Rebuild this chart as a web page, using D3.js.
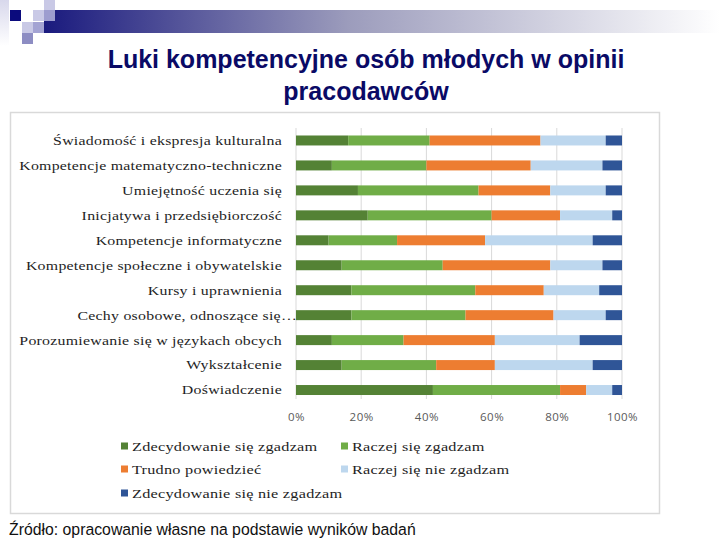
<!DOCTYPE html>
<html>
<head>
<meta charset="utf-8">
<script src="https://cdn.jsdelivr.net/npm/d3@7.9.0/dist/d3.min.js"></script>
<style>
  body { margin: 0; background: #fff; }
  svg { display: block; }
</style>
</head>
<body>
<div id="chart"></div>
<script>
const categories = [
    "Świadomość i ekspresja kulturalna",
    "Kompetencje matematyczno-techniczne",
    "Umiejętność uczenia się",
    "Inicjatywa i przedsiębiorczość",
    "Kompetencje informatyczne",
    "Kompetencje społeczne i obywatelskie",
    "Kursy i uprawnienia",
    "Cechy osobowe, odnoszące się…",
    "Porozumiewanie się w językach obcych",
    "Wykształcenie",
    "Doświadczenie"
];
const seriesNames = [
    "Zdecydowanie się zgadzam",
    "Raczej się zgadzam",
    "Trudno powiedzieć",
    "Raczej się nie zgadzam",
    "Zdecydowanie się nie zgadzam"
];
const strongAgree    = [16, 11, 19, 22, 10, 14, 17, 17, 11, 14, 42];
const ratherAgree    = [25, 29, 37, 38, 21, 31, 38, 35, 22, 29, 39];
const hardToSay      = [34, 32, 22, 21, 27, 33, 21, 27, 28, 18, 8];
const ratherDisagree = [20, 22, 17, 16, 33, 16, 17, 16, 26, 30, 8];
const strongDisagree = [5, 6, 5, 3, 9, 6, 7, 5, 13, 9, 3];
const xTicks = [0, 0.2, 0.4, 0.6, 0.8, 1];

const seriesValues = [strongAgree, ratherAgree, hardToSay, ratherDisagree, strongDisagree];
const colors = ["#548235", "#70ad47", "#ed7d31", "#bdd7ee", "#2f5597"];

const width = 720, height = 540;

const svg = d3.select('#chart').append('svg')
    .attr('width', width)
    .attr('height', height);

// slide decoration
const defs = svg.append('defs');
const grad = defs.append('linearGradient').attr('id', 'topbar');
grad.append('stop').attr('offset', '0%').attr('stop-color', '#1a1a7e');
grad.append('stop').attr('offset', '45%').attr('stop-color', '#9c9cbc');
grad.append('stop').attr('offset', '100%').attr('stop-color', '#ffffff');
const side = defs.append('linearGradient').attr('id', 'side')
    .attr('x1', 0).attr('y1', 0).attr('x2', 0).attr('y2', 1);
side.append('stop').attr('offset', '0%').attr('stop-color', '#d8d8ec');
side.append('stop').attr('offset', '100%').attr('stop-color', '#ffffff');

svg.append('rect').attr('x', 0).attr('y', 0).attr('width', 9).attr('height', 46).attr('fill', 'url(#side)');
svg.append('rect').attr('x', 44).attr('y', 10).attr('width', 676).attr('height', 23).attr('fill', 'url(#topbar)');

const squares = [
    [10, 10, '#0b0b7d'],
    [33, 10, '#c9c9e6'],
    [44, 0, '#c9c9e6'],
    [44, 10, '#9d9dcf'],
    [22, 22, '#c9c9e6'],
    [33, 22, '#a3a3d3'],
    [22, 33, '#8d8dc3']
];
svg.append('g').selectAll('rect')
    .data(squares)
    .join('rect')
    .attr('x', d => d[0])
    .attr('y', d => d[1])
    .attr('width', 11)
    .attr('height', 11)
    .attr('fill', d => d[2]);

// title
const title = svg.append('text')
    .attr('text-anchor', 'middle')
    .style('font-family', '"Liberation Sans", Arial, sans-serif')
    .style('font-weight', 'bold')
    .style('font-size', '25px')
    .attr('fill', '#0a0a66');
title.append('tspan').attr('x', 366).attr('y', 68).text('Luki kompetencyjne osób młodych w opinii');
title.append('tspan').attr('x', 366).attr('y', 100).text('pracodawców');

// chart frame
svg.append('rect')
    .attr('x', 10.5).attr('y', 112.5)
    .attr('width', 649).attr('height', 401)
    .attr('fill', 'none')
    .attr('stroke', '#d9d9d9')
    .attr('stroke-width', 1.5);

const x = d3.scaleLinear().domain([0, 1]).range([296, 622]);
const y = d3.scaleBand().domain(categories).range([128, 402.5])
    .paddingInner(0.6).paddingOuter(0.3);

// gridlines
svg.append('g')
    .selectAll('line')
    .data(xTicks)
    .join('line')
    .attr('x1', d => x(d)).attr('x2', d => x(d))
    .attr('y1', 128).attr('y2', 399)
    .attr('stroke', '#d9d9d9')
    .attr('stroke-width', 1);

const table = categories.map((c, i) => {
    const row = { category: c };
    seriesNames.forEach((s, j) => { row[s] = seriesValues[j][i] / 100; });
    return row;
});
const stacked = d3.stack().keys(seriesNames)(table);

svg.append('g')
    .selectAll('g')
    .data(stacked)
    .join('g')
    .attr('fill', (d, i) => colors[i])
    .selectAll('rect')
    .data(d => d)
    .join('rect')
    .attr('x', d => x(d[0]))
    .attr('y', d => y(d.data.category))
    .attr('width', d => x(d[1]) - x(d[0]))
    .attr('height', y.bandwidth());

// category labels (the source text is stretched horizontally)
svg.append('g')
    .selectAll('text')
    .data(categories)
    .join('text')
    .attr('transform', d => `translate(${d.endsWith('…') ? 297 : 282},${y(d) + y.bandwidth() / 2}) scale(1.27,1)`)
    .attr('dy', '0.35em')
    .attr('text-anchor', 'end')
    .style('font-family', '"Liberation Serif", "Times New Roman", serif')
    .style('font-size', '12.5px')
    .style('letter-spacing', '0.2px')
    .attr('fill', '#1e1e1e')
    .text(d => d);

// x axis labels
const xAxis = d3.axisBottom(x).tickValues(xTicks).tickFormat(d3.format('.0%')).tickSize(0);
const axisG = svg.append('g')
    .attr('transform', 'translate(0,410)')
    .call(xAxis);
axisG.select('.domain').remove();
axisG.selectAll('text')
    .style('font-family', '"Open Sans", sans-serif')
    .style('font-size', '11.5px')
    .style('letter-spacing', '0.5px')
    .attr('fill', '#595959');

// legend
const legendPos = [[121, 446], [341, 446], [121, 469], [341, 469], [121, 493]];
const legend = svg.append('g')
    .selectAll('g')
    .data(seriesNames)
    .join('g')
    .attr('transform', (d, i) => `translate(${legendPos[i][0]},${legendPos[i][1]})`);
legend.append('rect')
    .attr('x', 0).attr('y', -3.5)
    .attr('width', 7).attr('height', 7)
    .attr('fill', (d, i) => colors[i]);
legend.append('text')
    .attr('transform', 'translate(11,0) scale(1.25,1)')
    .attr('dy', '0.35em')
    .style('font-family', '"Liberation Serif", "Times New Roman", serif')
    .style('font-size', '13px')
    .style('letter-spacing', '0.2px')
    .attr('fill', '#1e1e1e')
    .text(d => d);

// source note
svg.append('text')
    .attr('transform', 'translate(9,535) scale(0.93,1)')
    .style('font-family', '"Liberation Sans", Arial, sans-serif')
    .style('font-size', '17px')
    .attr('fill', '#111')
    .text('Źródło: opracowanie własne na podstawie wyników badań');
</script>
</body>
</html>
